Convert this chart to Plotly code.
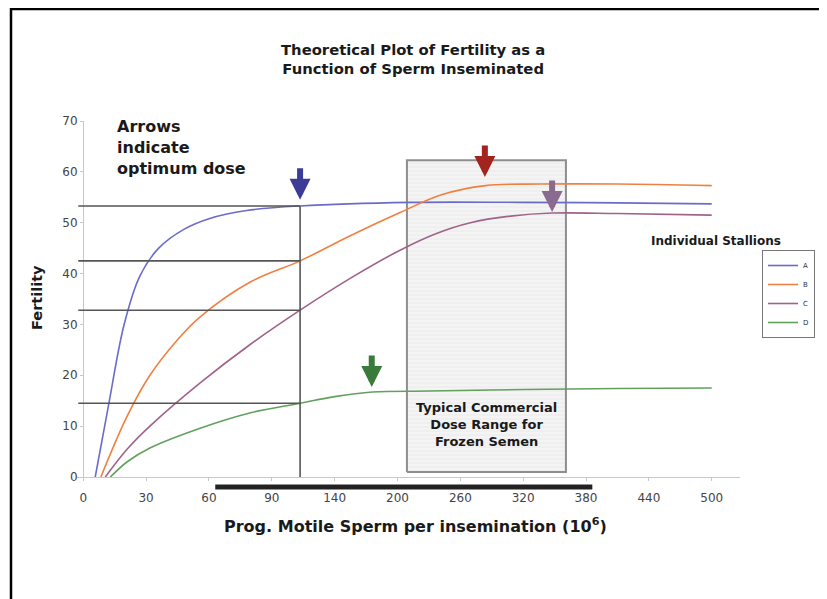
import plotly.graph_objects as go

# x axis is drawn on evenly spaced tick slots, labels are the dose values
dose_labels = ['0', '30', '60', '90', '140', '200', '260', '320', '380', '440', '500']
dose_slots = list(range(len(dose_labels)))

# curves, x in tick-slot units
a_x = [0.19, 0.4, 0.65, 0.9, 1.2, 1.6, 2.0, 2.6, 3.45, 5.2, 7.0, 8.5, 10]
a_y = [0, 14, 30, 39.5, 45, 48.7, 50.8, 52.4, 53.3, 54.0, 54.0, 53.9, 53.7]
b_x = [0.28, 0.7, 1.06, 1.5, 1.86, 2.65, 3.45, 4.24, 5.04, 5.7, 6.4, 7.27, 8.5, 10]
b_y = [0, 12, 20, 27, 31.5, 38.3, 42.5, 47.4, 52.0, 55.5, 57.3, 57.6, 57.6, 57.3]
c_x = [0.35, 0.7, 1.06, 1.86, 2.65, 3.45, 4.24, 5.04, 5.6, 6.16, 6.8, 7.46, 8.5, 10]
c_y = [0, 5.5, 10.0, 18.5, 26.0, 32.8, 39.0, 44.6, 47.8, 50.0, 51.3, 51.9, 51.8, 51.5]
d_x = [0.43, 0.7, 1.06, 1.86, 2.65, 3.45, 4.0, 4.6, 5.5, 7.0, 8.5, 10]
d_y = [0, 3.0, 5.7, 9.6, 12.6, 14.5, 15.8, 16.7, 16.9, 17.2, 17.4, 17.5]

stallions = ['A', 'B', 'C', 'D']
line_colors = ['#6b6bcc', '#ef8040', '#a0628a', '#62a05e']
arrow_colors = ['#3c3c96', '#a3231f', '#8a6a8e', '#3a7a3a']

# optimum dose arrows (slot position, fertility at arrow tip)
optimum_x = [3.45, 6.39, 7.46, 4.59]
optimum_y = [54.5, 59.0, 52.1, 17.7]

# reference guide lines at the chosen dose
guide_dose = 3.45
guide_levels = [53.3, 42.5, 32.8, 14.5]

# commercial frozen semen dose range (slots) and its height
range_x = [5.15, 7.68]
range_y = [1.0, 62.3]

# the dose bar under the axis (60 -> 380)
bar_slots = [2.1, 8.1]

FONT = 'DejaVu Sans, Arial, sans-serif'
OFF = 8  # page margin of the html body
W, H = 819, 591
L, R, T, B = 69, 87, 113, 122
X_RANGE = [-0.1, 10.45]


def px(x):  # page pixel -> paper x
    return (x - OFF - L) / (W - L - R)


def py(y):  # page pixel -> paper y
    return (H - B - (y - OFF)) / (H - T - B)


fig = go.Figure()

# dose range box with faint horizontal stripes
fig.add_trace(go.Scatter(
    x=[range_x[0], range_x[1], range_x[1], range_x[0], range_x[0]],
    y=[range_y[0], range_y[0], range_y[1], range_y[1], range_y[0]],
    mode='lines', fill='toself',
    line=dict(color='#8e8e8e', width=2),
    fillcolor='#f3f3f3',
    fillpattern=dict(shape='-', bgcolor='#f4f4f4', fgcolor='#dddddd', size=4, solidity=0.2),
    showlegend=False, hoverinfo='skip',
))

for name, xs, ys, col in zip(stallions, [a_x, b_x, c_x, d_x], [a_y, b_y, c_y, d_y], line_colors):
    fig.add_trace(go.Scatter(
        x=xs, y=ys, name=name, mode='lines',
        line=dict(color=col, width=1.6, shape='spline', smoothing=1.0),
    ))

# guide lines
for lvl in guide_levels:
    fig.add_shape(type='line', xref='x', yref='y', x0=X_RANGE[0] + 0.02, x1=guide_dose,
                  y0=lvl, y1=lvl, line=dict(color='#555555', width=1.6))
fig.add_shape(type='line', xref='x', yref='y', x0=guide_dose, x1=guide_dose,
              y0=0, y1=guide_levels[0], line=dict(color='#555555', width=1.6))

# dose bar below axis
fig.add_shape(type='line', xref='x', yref='paper', x0=bar_slots[0], x1=bar_slots[1],
              y0=py(487), y1=py(487), line=dict(color='#222222', width=5))

# outer frame
fig.add_shape(type='rect', xref='paper', yref='paper', x0=px(11), y0=-2, x1=3, y1=py(9),
              line=dict(color='black', width=2.5))

annotations = []
for xo, yo, col in zip(optimum_x, optimum_y, arrow_colors):
    annotations.append(dict(
        x=xo, y=yo, xref='x', yref='y', ax=0, ay=-33, axref='pixel', ayref='pixel',
        text='', showarrow=True, arrowhead=2, arrowsize=0.7, arrowwidth=6, arrowcolor=col,
    ))

txt = dict(xref='paper', yref='paper', showarrow=False, xanchor='center', yanchor='middle')
annotations += [
    dict(txt, text='<b>Theoretical Plot of Fertility as a<br>Function of Sperm Inseminated</b>',
         x=px(413), y=py(59), font=dict(size=14.8, color='#1a1a1a', family=FONT)),
    dict(txt, text='<b>Arrows<br>indicate<br>optimum dose</b>', align='left',
         x=px(115), y=py(115), xanchor='left', yanchor='top',
         font=dict(size=16, color='#1a1a1a', family=FONT)),
    dict(txt, text='<b>Typical Commercial<br>Dose Range for<br>Frozen Semen</b>',
         x=px(486), y=py(424), font=dict(size=13, color='#1a1a1a', family=FONT)),
    dict(txt, text='<b>Individual Stallions</b>',
         x=px(716), y=py(241), font=dict(size=12, color='#1a1a1a', family=FONT)),
    dict(txt, text='<b>Prog. Motile Sperm per insemination (10<sup>6</sup>)</b>',
         x=px(415), y=py(513), yanchor='top', font=dict(size=16, color='#1a1a1a', family=FONT)),
    dict(txt, text='<b>Fertility</b>', textangle=-90,
         x=px(37), y=py(298), font=dict(size=14.5, color='#1a1a1a', family=FONT)),
]

fig.update_layout(
    width=W, height=H,
    margin=dict(l=L, r=R, t=T, b=B),
    plot_bgcolor='white',
    paper_bgcolor='white',
    annotations=annotations,
    legend=dict(
        x=px(762), y=py(250), xanchor='left', yanchor='top',
        bordercolor='#777777', borderwidth=1,
        font=dict(size=7, family=FONT, color='#333333'),
        itemwidth=30, tracegroupgap=0,
    ),
)
fig.update_xaxes(
    range=X_RANGE,
    tickmode='array', tickvals=dose_slots, ticktext=dose_labels,
    showgrid=False, zeroline=False,
    showline=True, linecolor='#c8c8c8', linewidth=1,
    ticks='outside', ticklen=3, tickcolor='#c8c8c8',
    ticklabelstandoff=7,
    tickfont=dict(size=12, color='#444444', family=FONT),
)
fig.update_yaxes(
    range=[0, 70], dtick=10,
    anchor='free', position=px(83),
    showgrid=False, zeroline=False,
    showline=True, linecolor='#c8c8c8', linewidth=1,
    ticks='outside', ticklen=3, tickcolor='#c8c8c8',
    tickfont=dict(size=12, color='#444444', family=FONT),
)

fig.write_html("out.html")
